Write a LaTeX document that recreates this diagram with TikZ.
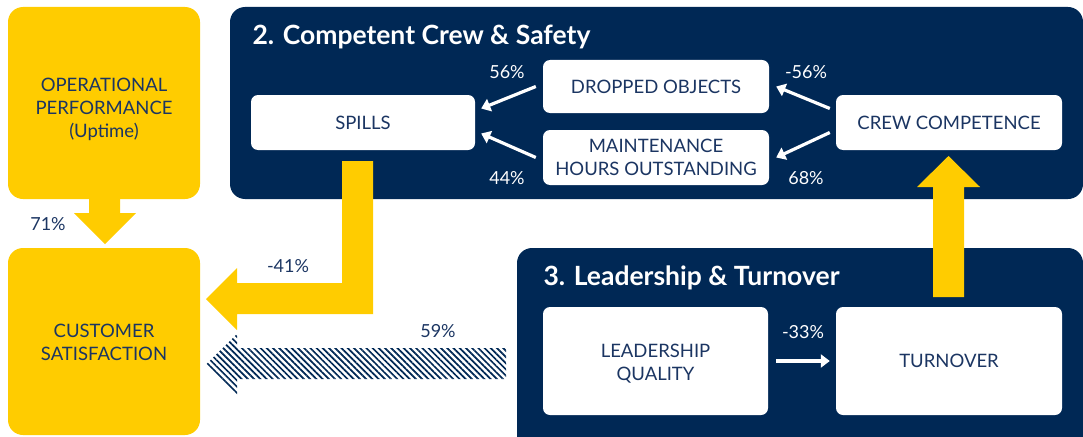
\documentclass[tikz,border=0pt]{standalone}
\usepackage{fontspec}
\setmainfont{Lato}
\usetikzlibrary{arrows.meta,patterns.meta,calc}
\definecolor{navy}{HTML}{002855}
\definecolor{gold}{HTML}{FFCC00}
\definecolor{ink}{HTML}{1B3562}
\tikzset{
  panel/.style={fill=navy, rounded corners=15pt},
  goldbox/.style={fill=gold, rounded corners=15pt, inner sep=0pt},
  boxtext/.style={text=ink, align=center, font=\fontsize{18.5}{23}\selectfont, inner sep=0pt},
  card/.style={fill=white, rounded corners=7pt, text=ink, align=center,
    font=\fontsize{18.5}{23}\selectfont, inner sep=0pt},
  paneltitle/.style={text=white, anchor=west, font=\fontsize{26.5}{30}\selectfont\bfseries},
  pct/.style={text=white, font=\fontsize{18}{20}\selectfont},
  pctdark/.style={text=ink, font=\fontsize{18}{20}\selectfont},
  link/.style={draw=white, line width=3.2pt, -{Triangle[length=9pt,width=13pt]}},
  fatarrow/.style={fill=gold},
}
\begin{document}
\begin{tikzpicture}[x=1pt,y=-1pt]
\useasboundingbox (0,0) rectangle (1083,436);

% panels
\fill[panel] (230,7) rectangle (1083,199);
\fill[panel] (517,248) rectangle (1083,450);
\node[paneltitle] (t2) at (249,37) {2. Competent Crew \& Safety};
\node[paneltitle] (t3) at (540,278) {3. Leadership \& Turnover};

% yellow side boxes
\node[goldbox, minimum width=192pt, minimum height=192pt] (perf) at (104,103) {};
\node[boxtext] (perftext) at ([yshift=-6pt]perf.center)
  {OPERATIONAL\\PERFORMANCE\\(Uptime)};
\node[goldbox, minimum width=192pt, minimum height=187pt] (cust) at (104,341.5) {};
\node[boxtext] (custtext) at ([yshift=-0.5pt]cust.center) {CUSTOMER\\SATISFACTION};

% white cards
\node[card, minimum width=224pt, minimum height=55pt] (spills) at (363,122.5) {SPILLS};
\node[card, minimum width=226pt, minimum height=53pt] (drop) at (656,86.5) {DROPPED OBJECTS};
\node[card, minimum width=226pt, minimum height=55pt] (maint) at (656,157.5) {MAINTENANCE\\HOURS OUTSTANDING};
\node[card, minimum width=226pt, minimum height=55pt] (crew) at (949,122.5) {CREW COMPETENCE};
\node[card, minimum width=225pt, minimum height=108pt] (lead) at (655.5,361) {};
\node[boxtext] (leadtext) at ([yshift=-2.5pt]lead.center) {LEADERSHIP\\QUALITY};
\node[card, minimum width=226pt, minimum height=108pt] (turn) at (949,361) {TURNOVER};

% white links inside the panels
\draw[link] ([xshift=-7pt]drop.west) -- ([xshift=6pt,yshift=14pt]spills.east);
\draw[link] ([xshift=-7pt]maint.west) -- ([xshift=6pt,yshift=-11pt]spills.east);
\draw[link] ([xshift=-6pt,yshift=14pt]crew.west) -- ([xshift=7pt]drop.east);
\draw[link] ([xshift=-6pt,yshift=-10pt]crew.west) -- ([xshift=7pt]maint.east);
\draw[link] ([xshift=8pt]lead.east) -- ([xshift=-6pt]turn.west);

\node[pct] (p56) at (507,72) {56\%};
\node[pct] (p44) at (507,178) {44\%};
\node[pct] (pm56) at (806,72) {-56\%};
\node[pct] (p68) at (806,178) {68\%};
\node[pct] (pm33) at (803,332) {-33\%};

% broad yellow arrows
\fill[fatarrow] (89,199) -- (120,199) -- (120,213) -- (136,213) -- (105,244)
  -- (74,213) -- (89,213) -- cycle;
\fill[fatarrow] (342,161) -- (373,161) -- (373,314) -- (237,314) -- (237,330)
  -- (206,299) -- (237,268) -- (237,283) -- (342,283) -- cycle;
\fill[fatarrow] (933,297) -- (964,297) -- (964,187) -- (980,187) -- (948.5,156)
  -- (917,187) -- (933,187) -- cycle;

% hatched arrow
\fill[pattern={Lines[angle=-45, distance=4.4pt, line width=1.7pt]}, pattern color=navy]
  (506,348) -- (506,379) -- (237,379) -- (237,395) -- (206,364.5)
  -- (237,334) -- (237,348) -- cycle;

\node[pctdark] (p71) at (48,224) {71\%};
\node[pctdark] (pm41) at (288,266) {-41\%};
\node[pctdark] (p59) at (438,331) {59\%};
\end{tikzpicture}
\end{document}
